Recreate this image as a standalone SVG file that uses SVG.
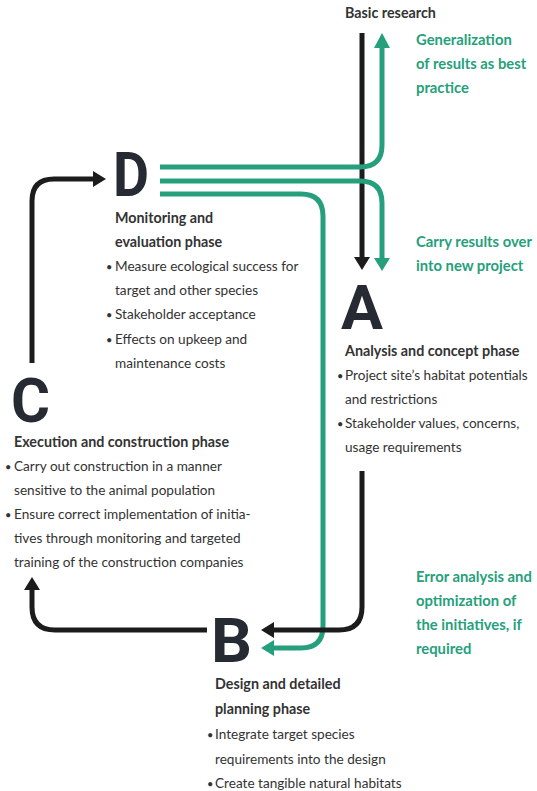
<svg xmlns="http://www.w3.org/2000/svg" width="537" height="791" viewBox="0 0 537 791">
<style>
.bg{fill:#ffffff}
.t{font-family:Lato,"Open Sans","DejaVu Sans",sans-serif;font-size:13.6px;fill:#333333}
.h{font-weight:700;font-size:14.3px}
.b{font-size:11px}
.g{font-family:Lato,"Open Sans","DejaVu Sans",sans-serif;font-size:14.8px;font-weight:700;fill:#26a07c}
.L{font-family:Roboto,"DejaVu Sans",sans-serif;font-size:62px;font-weight:700;fill:#262a33}
.k{fill:none;stroke:#1c1c1c;stroke-width:5}
.gr{fill:none;stroke:#26a07c;stroke-width:5}
.kh{fill:#1c1c1c}
.gh{fill:#26a07c}
</style>
<rect class="bg" x="0" y="0" width="537" height="791"/>
<g id="connectors">
  <!-- Basic research -> A -->
  <path class="k" d="M362,33 V259"/>
  <polygon class="kh" points="354,257 370,257 362,270"/>
  <!-- D -> generalization (up) -->
  <path class="gr" d="M160,167 H360 Q382,167 382,145 V46"/>
  <polygon class="gh" points="374,48 390,48 382,33"/>
  <!-- D -> carry results over (down) -->
  <path class="gr" d="M160,181 H360 Q382,181 382,203 V260"/>
  <polygon class="gh" points="374,258 390,258 382,271"/>
  <!-- D -> B error analysis -->
  <path class="gr" d="M160,194 H301 Q323,194 323,216 V626 Q323,648 301,648 H272"/>
  <polygon class="gh" points="274,640 274,656 261,648"/>
  <!-- A -> B -->
  <path class="k" d="M362,471 V607 Q362,630 339,630 H272"/>
  <polygon class="kh" points="274,622 274,638 261,630"/>
  <!-- B -> C -->
  <path class="k" d="M207,630 H55 Q32,630 32,607 V588"/>
  <polygon class="kh" points="24,590 40,590 32,577"/>
  <!-- C -> D -->
  <path class="k" d="M32,363 V201 Q32,179 54,179 H95"/>
  <polygon class="kh" points="93,171 93,187 106,179"/>
</g>
<g id="basic-research">
  <text class="t h" x="345" y="18">Basic research</text>
</g>
<g id="generalization">
  <text class="g" x="416" y="45">Generalization</text>
  <text class="g" x="416" y="69">of results as best</text>
  <text class="g" x="416" y="93">practice</text>
</g>
<g id="carry-over">
  <text class="g" x="416" y="247">Carry results over</text>
  <text class="g" x="416" y="271">into new project</text>
</g>
<g id="error-analysis">
  <text class="g" x="416" y="582">Error analysis and</text>
  <text class="g" x="416" y="606">optimization of</text>
  <text class="g" x="416" y="630">the initiatives, if</text>
  <text class="g" x="416" y="654">required</text>
</g>
<g id="node-D">
  <text class="L" x="113" y="196" textLength="36" lengthAdjust="spacingAndGlyphs">D</text>
  <text class="t h" x="115" y="223">Monitoring and</text>
  <text class="t h" x="115" y="247">evaluation phase</text>
  <text class="t" y="271"><tspan class="b" x="106">•</tspan><tspan x="115">Measure ecological success for</tspan></text>
  <text class="t" x="115" y="295">target and other species</text>
  <text class="t" y="319"><tspan class="b" x="106">•</tspan><tspan x="115">Stakeholder acceptance</tspan></text>
  <text class="t" y="344"><tspan class="b" x="106">•</tspan><tspan x="115">Effects on upkeep and</tspan></text>
  <text class="t" x="115" y="368">maintenance costs</text>
</g>
<g id="node-A">
  <text class="L" x="341" y="329" textLength="42" lengthAdjust="spacingAndGlyphs">A</text>
  <text class="t h" x="345" y="356">Analysis and concept phase</text>
  <text class="t" y="380"><tspan class="b" x="337">•</tspan><tspan x="345">Project site’s habitat potentials</tspan></text>
  <text class="t" x="345" y="404">and restrictions</text>
  <text class="t" y="428"><tspan class="b" x="337">•</tspan><tspan x="345">Stakeholder values, concerns,</tspan></text>
  <text class="t" x="345" y="452">usage requirements</text>
</g>
<g id="node-C">
  <text class="L" x="11" y="422" textLength="39" lengthAdjust="spacingAndGlyphs">C</text>
  <text class="t h" x="14" y="447">Execution and construction phase</text>
  <text class="t" y="471"><tspan class="b" x="5">•</tspan><tspan x="14">Carry out construction in a manner</tspan></text>
  <text class="t" x="14" y="495">sensitive to the animal population</text>
  <text class="t" y="519"><tspan class="b" x="5">•</tspan><tspan x="14">Ensure correct implementation of initia-</tspan></text>
  <text class="t" x="14" y="543">tives through monitoring and targeted</text>
  <text class="t" x="14" y="567">training of the construction companies</text>
</g>
<g id="node-B">
  <text class="L" x="211" y="662" textLength="41" lengthAdjust="spacingAndGlyphs">B</text>
  <text class="t h" x="215" y="689">Design and detailed</text>
  <text class="t h" x="215" y="714">planning phase</text>
  <text class="t" y="739"><tspan class="b" x="207">•</tspan><tspan x="215">Integrate target species</tspan></text>
  <text class="t" x="215" y="764">requirements into the design</text>
  <text class="t" y="788"><tspan class="b" x="207">•</tspan><tspan x="215">Create tangible natural habitats</tspan></text>
</g>
</svg>
